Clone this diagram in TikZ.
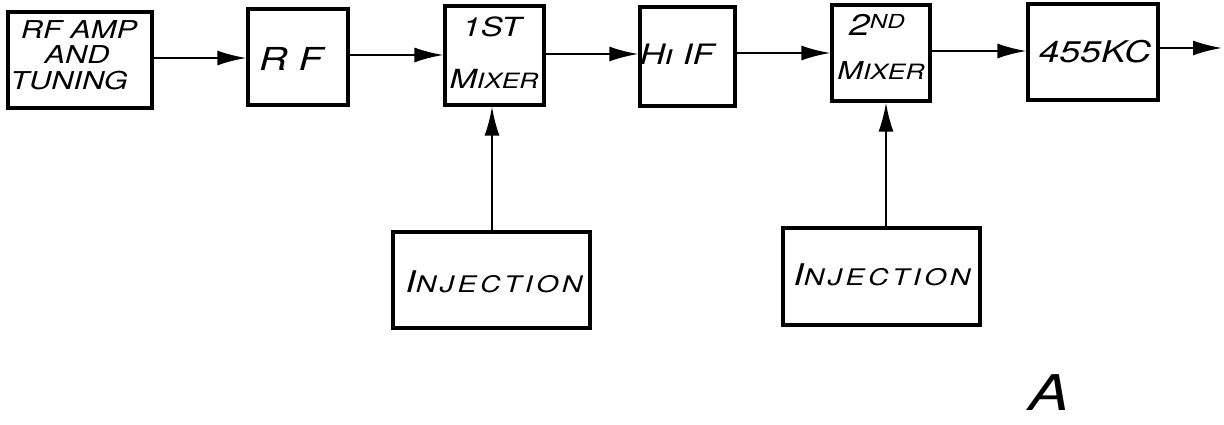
\documentclass[tikz,border=0pt]{standalone}
\usepackage{fontspec}
\setmainfont[FakeStretch=1.25]{TeX Gyre Heros}
\usetikzlibrary{arrows.meta}
\tikzset{
  blk/.style={draw, line width=1.8pt, inner sep=0pt, align=center, font=\itshape},
  conn/.style={line width=1.3pt, -{Latex[length=5.8mm,width=3mm]}},
  lbl/.style={inner sep=0pt, font=\itshape}
}
\begin{document}
\begin{tikzpicture}[x=0.02cm,y=-0.02cm]
\useasboundingbox (0,0) rectangle (1224,425);
% boxes
\node[blk, minimum width=2.88cm, minimum height=1.92cm] (amp) at (80,60) {};
\node[lbl, font=\itshape\fontsize{14}{14}\selectfont] (ampt) at (79,30) {RF AMP};
\node[lbl, font=\itshape\fontsize{14}{14}\selectfont] (ampa) at (77,55) {AND};
\node[lbl, font=\itshape\fontsize{14}{14}\selectfont] (ampb) at (69,81) {TUNING};

\node[blk, minimum width=2.0cm, minimum height=1.92cm] (rf) at (298,57) {};
\node[lbl, font=\itshape\fontsize{18}{18}\selectfont] (rft) at (291,59) {R F};

\node[blk, minimum width=1.98cm, minimum height=1.98cm] (mx1) at (494.5,55.5) {};
\node[lbl, font=\itshape\fontsize{15}{15}\selectfont] (mx1a) at (492,27) {1ST};
\node[lbl, font=\itshape\fontsize{12}{12}\selectfont] (mx1b) at (494,79) {{\fontsize{15}{15}\selectfont M}IXER};

\node[blk, minimum width=1.9cm, minimum height=1.98cm] (hif) at (687.5,56.5) {};
\node[lbl, font=\itshape\fontsize{16}{16}\selectfont] (hift) at (677,54) {Hı IF};

\node[blk, minimum width=1.96cm, minimum height=1.92cm] (mx2) at (881,53) {};
\node[lbl, font=\itshape\fontsize{17}{17}\selectfont] (mx2a) at (877,25) {2\raisebox{0.5ex}{\fontsize{11}{11}\selectfont ND}};
\node[lbl, font=\itshape\fontsize{12}{12}\selectfont] (mx2b) at (881,71) {{\fontsize{14}{14}\selectfont M}IXER};

\node[blk, minimum width=2.6cm, minimum height=1.92cm] (kc) at (1093,52) {};
\node[lbl, font=\itshape\fontsize{17}{17}\selectfont] (kct) at (1095,52) {455KC};

\node[blk, minimum width=3.94cm, minimum height=1.92cm] (inj1) at (491.5,280) {};
\node[lbl, font=\itshape\fontsize{13}{13}\selectfont\addfontfeature{LetterSpace=15}] (inj1t) at (494,282) {{\fontsize{17}{17}\selectfont I}NJECTION};

\node[blk, minimum width=3.94cm, minimum height=1.94cm] (inj2) at (881.5,276.5) {};
\node[lbl, font=\itshape\fontsize{13}{13}\selectfont\addfontfeature{LetterSpace=15}] (inj2t) at (882,275) {{\fontsize{17}{17}\selectfont I}NJECTION};

\node[lbl, font=\itshape\fontsize{28}{28}\selectfont] (lettera) at (1049,393) {A};

\coordinate (out) at (1222,48);

% connectors
\draw[conn] (amp.east |- 0,58) -- (rf.west |- 0,58);
\draw[conn] (rf.east |- 0,55) -- (mx1.west |- 0,55);
\draw[conn] (mx1.east |- 0,54) -- (hif.west |- 0,54);
\draw[conn] (hif.east |- 0,53) -- (mx2.west |- 0,53);
\draw[conn] (mx2.east |- 0,51) -- (kc.west |- 0,51);
\draw[conn] (kc.east |- out) -- (out);
\draw[conn] (inj1.north -| 492,0) -- (mx1.south -| 492,0);
\draw[conn] (inj2.north -| 886,0) -- (mx2.south -| 886,0);
\end{tikzpicture}
\end{document}
